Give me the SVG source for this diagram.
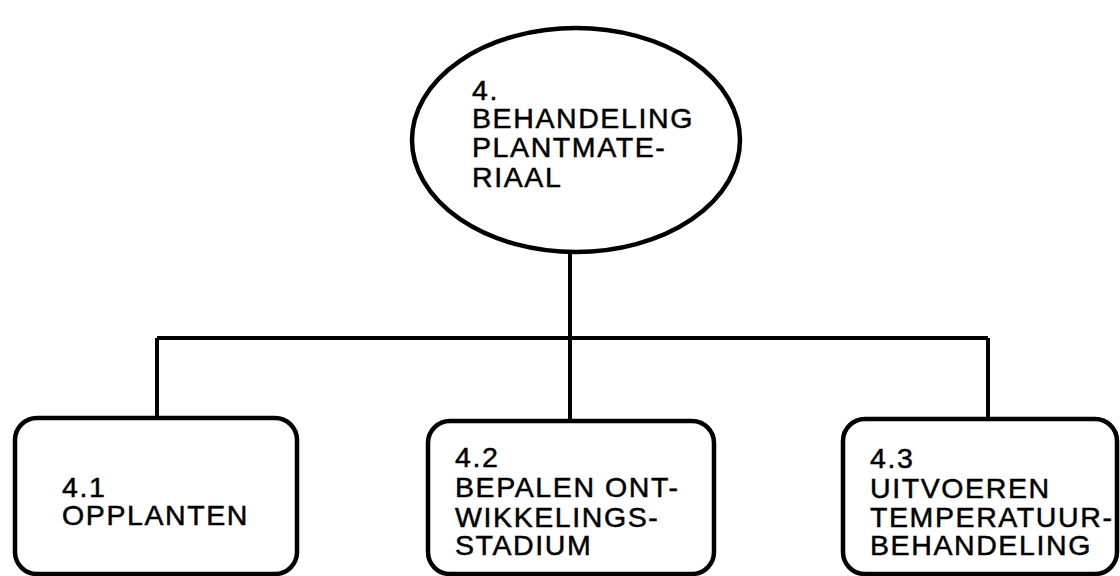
<svg xmlns="http://www.w3.org/2000/svg" width="1120" height="576" viewBox="0 0 1120 576">
<style>
.shape{fill:#fff;stroke:#000;stroke-width:4.5}
.conn{fill:none;stroke:#000;stroke-width:4}
text{font-family:"Liberation Sans",Arial,sans-serif;font-size:28.5px;fill:#000;stroke:#000;stroke-width:0.5;letter-spacing:1.6px}
</style>
<rect width="1120" height="576" fill="#fff"/>
<g id="connectors">
<path class="conn" d="M570 251 V421"/>
<path class="conn" d="M157 338 H988"/>
<path class="conn" d="M157 338 V418"/>
<path class="conn" d="M988 338 V419"/>
</g>
<g id="node-4">
<ellipse class="shape" cx="576" cy="140" rx="164" ry="112"/>
<text x="472" y="100">4.</text>
<text x="472" y="128">BEHANDELING</text>
<text x="472" y="157">PLANTMATE-</text>
<text x="472" y="187">RIAAL</text>
</g>
<g id="node-4-1">
<rect class="shape" x="15" y="418" width="282" height="156" rx="22"/>
<text x="62" y="497">4.1</text>
<text x="62" y="525">OPPLANTEN</text>
</g>
<g id="node-4-2">
<rect class="shape" x="428" y="421" width="286" height="153" rx="22"/>
<text x="455" y="467">4.2</text>
<text x="455" y="497">BEPALEN ONT-</text>
<text x="455" y="527">WIKKELINGS-</text>
<text x="455" y="555">STADIUM</text>
</g>
<g id="node-4-3">
<rect class="shape" x="843" y="419" width="274" height="155" rx="22"/>
<text x="870" y="468">4.3</text>
<text x="870" y="498">UITVOEREN</text>
<text x="870" y="527">TEMPERATUUR-</text>
<text x="870" y="555">BEHANDELING</text>
</g>
</svg>
